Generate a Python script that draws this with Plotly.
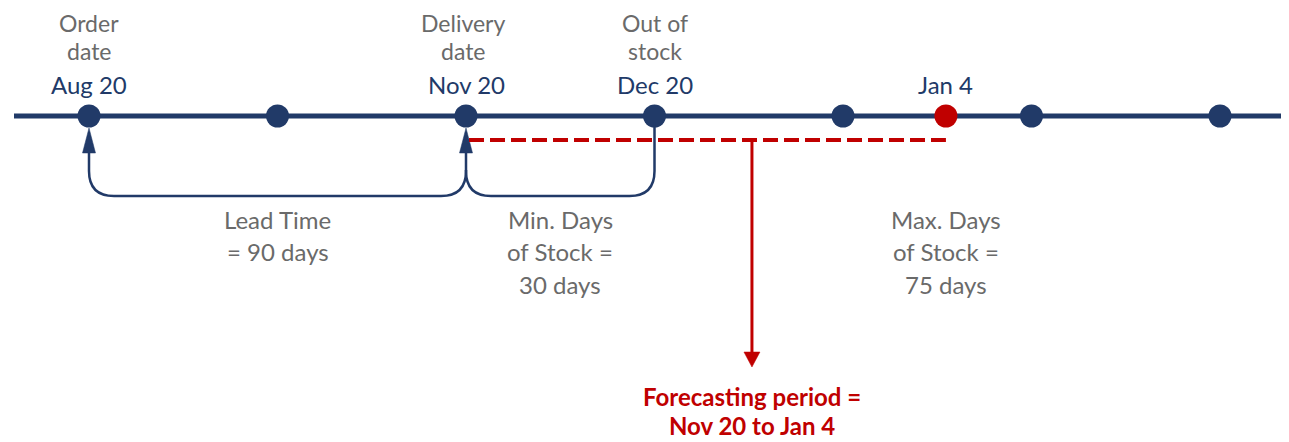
import plotly.graph_objects as go

# ---- data ----
slots = [0, 1, 2, 3, 4, 5, 6]               # regular timeline dots (month slots)
red_slot = 4.546                            # Jan 4 (highlighted)
date_labels = ["Aug 20", "Nov 20", "Dec 20", "Jan 4"]
date_slots = [0, 2, 3, red_slot]
top_labels = [["Order", "date"], ["Delivery", "date"], ["Out of", "stock"]]
top_slots = [0, 1.985, 3]
note_labels = [["Lead Time", "= 90 days"],
               ["Min. Days", "of Stock =", "30 days"],
               ["Max. Days", "of Stock =", "75 days"]]
note_slots = [1, 2.5, red_slot]
forecast_label = ["Forecasting period =", "Nov 20 to Jan 4"]
forecast_slot = 3.517

NAVY = "#213A68"
RED = "#C00000"
GRAY = "#6A6A6A"
FONT = "Lato"

SLOT_PX = 188.5
OFF = 8  # page body margin
def px(v):
    return v / SLOT_PX

LINE_Y = 116
fig = go.Figure()

shapes = []
# main timeline
shapes.append(dict(type="line", x0=px(14 - 89), x1=px(1285 - 89), y0=LINE_Y, y1=LINE_Y,
                   line=dict(color=NAVY, width=5), layer="below"))

# brackets
r = 25
by = 196
def bracket(a, b, ya, yb):
    return (f"M {a},{ya} L {a},{by - r} Q {a},{by} {a + px(r)},{by} "
            f"L {b - px(r)},{by} Q {b},{by} {b},{by - r} L {b},{yb}")
shapes.append(dict(type="path", path=bracket(slots[0], slots[2], 150, 150),
                   line=dict(color=NAVY, width=2.5)))
shapes.append(dict(type="path", path=bracket(slots[2], slots[3], 170, 122),
                   line=dict(color=NAVY, width=2.5)))
# arrowheads (pointing up)
for s in [slots[0], slots[2]]:
    shapes.append(dict(type="path",
                       path=f"M {s},{128} L {s - px(6.5)},{153} L {s + px(6.5)},{153} Z",
                       fillcolor=NAVY, line=dict(color=NAVY, width=0.5)))

# red dashed forecast span
shapes.append(dict(type="line", x0=slots[2] + px(3), x1=red_slot, y0=140, y1=140,
                   line=dict(color=RED, width=4, dash="15px,6px")))
# red vertical arrow
shapes.append(dict(type="line", x0=forecast_slot, x1=forecast_slot, y0=140, y1=353,
                   line=dict(color=RED, width=3)))
shapes.append(dict(type="path",
                   path=f"M {forecast_slot},{367} L {forecast_slot - px(8)},{352} L {forecast_slot + px(8)},{352} Z",
                   fillcolor=RED, line=dict(color=RED, width=0.5)))

# dots
fig.add_trace(go.Scatter(x=slots, y=[LINE_Y] * len(slots), mode="markers",
                         marker=dict(size=23, color=NAVY), hoverinfo="skip"))
fig.add_trace(go.Scatter(x=[red_slot], y=[LINE_Y], mode="markers",
                         marker=dict(size=23, color=RED), hoverinfo="skip"))

ann = []
def txt(x, y, t, color, size=24, bold=False):
    ann.append(dict(x=x, y=y, text=f"<b>{t}</b>" if bold else t, showarrow=False,
                    xanchor="center", yanchor="middle", borderpad=0,
                    font=dict(family=FONT, size=size, color=color)))

for s, lab in zip(date_slots, date_labels):
    txt(s, 84, lab, NAVY)
for s, lines in zip(top_slots, top_labels):
    for i, l in enumerate(lines):
        txt(s, 22.5 + 28 * i, l, GRAY, size=23)
for s, lines in zip(note_slots, note_labels):
    for i, l in enumerate(lines):
        txt(s, 219 + 32.5 * i, l, GRAY)
for i, l in enumerate(forecast_label):
    txt(forecast_slot, 396 + 29 * i, l, RED, size=24, bold=True)

fig.update_layout(
    width=1289 - OFF, height=442 - OFF, margin=dict(l=0, r=0, t=0, b=0),
    paper_bgcolor="white", plot_bgcolor="white", showlegend=False,
    shapes=shapes, annotations=ann,
    xaxis=dict(range=[px(OFF - 89), px(1289 - 89)], visible=False, fixedrange=True),
    yaxis=dict(range=[442, OFF], visible=False, fixedrange=True),
)
fig.write_html("out.html")
